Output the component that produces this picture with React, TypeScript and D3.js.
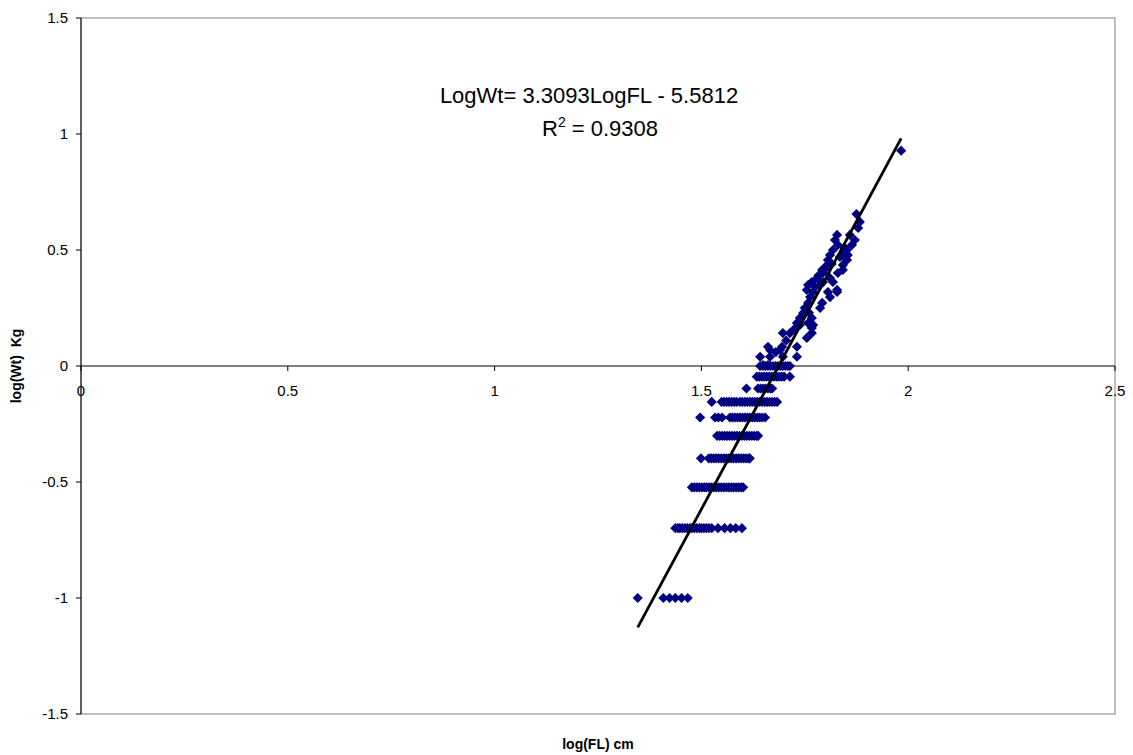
import React from "react";
import * as d3 from "d3";

// Rows of identical weights (log10 kg) with their log10 fork-length values
const rowWt: number[] = [-1, -0.699, -0.523, -0.398, -0.301, -0.222, -0.155, -0.097, -0.046, 0];
const rowFL: number[][] = [
  [1.346, 1.408, 1.423, 1.437, 1.452, 1.467],
  [1.437, 1.443, 1.448, 1.454, 1.460, 1.466, 1.472, 1.477, 1.483, 1.489, 1.495, 1.500, 1.506, 1.512, 1.518, 1.525, 1.540, 1.556, 1.570, 1.583, 1.598],
  [1.477, 1.483, 1.489, 1.495, 1.501, 1.507, 1.512, 1.518, 1.524, 1.530, 1.536, 1.542, 1.548, 1.554, 1.560, 1.566, 1.572, 1.578, 1.584, 1.590, 1.596, 1.601],
  [1.499, 1.518, 1.524, 1.530, 1.536, 1.542, 1.548, 1.554, 1.560, 1.566, 1.572, 1.578, 1.584, 1.590, 1.596, 1.602, 1.608, 1.614, 1.617],
  [1.538, 1.544, 1.550, 1.556, 1.562, 1.568, 1.574, 1.580, 1.586, 1.592, 1.598, 1.604, 1.610, 1.616, 1.622, 1.628, 1.634, 1.637],
  [1.497, 1.533, 1.541, 1.550, 1.569, 1.575, 1.581, 1.587, 1.593, 1.599, 1.605, 1.611, 1.617, 1.623, 1.629, 1.635, 1.641, 1.647, 1.654],
  [1.525, 1.549, 1.555, 1.561, 1.567, 1.573, 1.579, 1.585, 1.593, 1.599, 1.605, 1.611, 1.617, 1.623, 1.629, 1.635, 1.641, 1.647, 1.653, 1.659, 1.665, 1.671, 1.677, 1.683],
  [1.609, 1.637, 1.643, 1.649, 1.655, 1.661, 1.667, 1.671],
  [1.634, 1.640, 1.646, 1.652, 1.658, 1.664, 1.670, 1.676, 1.682, 1.688, 1.694, 1.700, 1.714],
  [1.642, 1.649, 1.655, 1.661, 1.667, 1.673, 1.679, 1.685, 1.691, 1.697, 1.703, 1.709, 1.714],
];

// Scattered larger fish
const upperFL: number[] = [
  1.649, 1.661, 1.642, 1.666, 1.697, 1.731, 1.666, 1.690, 1.661, 1.695, 1.731,
  1.755, 1.697, 1.714, 1.767, 1.767, 1.738, 1.770, 1.731, 1.758, 1.738, 1.767,
  1.746, 1.750, 1.787, 1.758, 1.792, 1.763, 1.811, 1.770, 1.806, 1.828,
  1.755, 1.828, 1.758, 1.787, 1.767, 1.794, 1.818, 1.780, 1.811, 1.794, 1.830,
  1.792, 1.842, 1.804, 1.842, 1.806, 1.852, 1.811, 1.840, 1.854, 1.818, 1.852,
  1.830, 1.864, 1.823, 1.871, 1.828, 1.859, 1.879, 1.883, 1.875, 1.983,
  1.775, 1.783, 1.800, 1.815, 1.835, 1.846, 1.760, 1.725, 1.705, 1.680,
];
const upperWt: number[] = [
  0.004, 0.004, 0.040, 0.040, 0.040, 0.040, 0.069, 0.069, 0.083, 0.083, 0.083,
  0.121, 0.142, 0.142, 0.142, 0.164, 0.177, 0.177, 0.185, 0.185, 0.207, 0.207,
  0.228, 0.250, 0.250, 0.272, 0.272, 0.297, 0.297, 0.319, 0.319, 0.319,
  0.328, 0.328, 0.349, 0.349, 0.362, 0.362, 0.362, 0.379, 0.379, 0.401, 0.401,
  0.414, 0.414, 0.435, 0.435, 0.457, 0.457, 0.478, 0.478, 0.478, 0.500, 0.500,
  0.522, 0.522, 0.543, 0.543, 0.565, 0.565, 0.595, 0.621, 0.655, 0.928,
  0.340, 0.390, 0.420, 0.440, 0.470, 0.510, 0.230, 0.160, 0.110, 0.060,
];

const slope = 3.3093;
const intercept = -5.5812;
const xTicks: number[] = [0, 0.5, 1, 1.5, 2, 2.5];
const yTicks: number[] = [-1.5, -1, -0.5, 0, 0.5, 1, 1.5];

const W = 1133;
const H = 755;
const L = 81, R = 1115, T = 18, B = 714;

export default function App() {
  const x = d3.scaleLinear().domain([0, 2.5]).range([L, R]);
  const y = d3.scaleLinear().domain([-1.5, 1.5]).range([B, T]);

  const pts: [number, number][] = [];
  rowWt.forEach((w, i) => rowFL[i].forEach((f) => pts.push([f, w])));
  upperFL.forEach((f, i) => pts.push([f, upperWt[i]]));

  const xs = pts.map((p) => p[0]);
  const xMin = d3.min(xs) as number;
  const xMax = d3.max(xs) as number;
  const line = d3.line<number>().x((v) => x(v)).y((v) => y(slope * v + intercept));

  const diamond = d3.symbol().type(d3.symbolDiamond2).size(66)() as string;
  const font = "Arial, 'Liberation Sans', sans-serif";

  return (
    <svg width={W} height={H} style={{ position: "absolute", left: 0, top: 0, background: "#fff" }}>
      <rect x={0} y={0} width={W} height={H} fill="#fff" />
      {/* plot frame */}
      <rect x={L} y={T} width={R - L} height={B - T} fill="none" stroke="#808080" strokeWidth={1} />
      {/* y axis */}
      <line x1={L} x2={L} y1={T} y2={B} stroke="#000" strokeWidth={1} />
      {yTicks.map((t) => (
        <g key={"y" + t}>
          <line x1={L - 5} x2={L} y1={y(t)} y2={y(t)} stroke="#000" />
          <text x={L - 13} y={y(t)} dy="0.36em" textAnchor="end" fontSize={15} fontFamily={font} fill="#000">
            {String(t)}
          </text>
        </g>
      ))}
      {/* x axis at y=0 */}
      <line x1={L} x2={R} y1={y(0)} y2={y(0)} stroke="#000" strokeWidth={1} />
      {xTicks.map((t) => (
        <g key={"x" + t}>
          <line x1={x(t)} x2={x(t)} y1={y(0)} y2={y(0) + 5} stroke="#000" />
          <text x={x(t)} y={y(0) + 30} textAnchor="middle" fontSize={15} fontFamily={font} fill="#000">
            {String(t)}
          </text>
        </g>
      ))}
      {/* points */}
      {pts.map((p, i) => (
        <path key={i} d={diamond} transform={`translate(${x(p[0])},${y(p[1])})`} fill="#000080" />
      ))}
      {/* trend line */}
      <path d={line([xMin, xMax]) as string} stroke="#000" strokeWidth={2.8} fill="none" />
      {/* equation */}
      <text x={589} y={103} textAnchor="middle" fontSize={22} fontFamily={font} fill="#000">
        LogWt= 3.3093LogFL - 5.5812
      </text>
      <text x={542} y={136} textAnchor="start" fontSize={22} fontFamily={font} fill="#000">
        R<tspan dy={-9} fontSize={14}>2</tspan>
        <tspan dy={9}> = 0.9308</tspan>
      </text>
      {/* axis titles */}
      <text x={598} y={749} textAnchor="middle" fontSize={14} fontWeight="bold" fontFamily={font} fill="#000">
        log(FL) cm
      </text>
      <text transform={`translate(21,${(T + B) / 2}) rotate(-90)`} textAnchor="middle" fontSize={14} fontWeight="bold" fontFamily={font} fill="#000">
        {"log(Wt)\u00a0\u00a0Kg"}
      </text>
    </svg>
  );
}
